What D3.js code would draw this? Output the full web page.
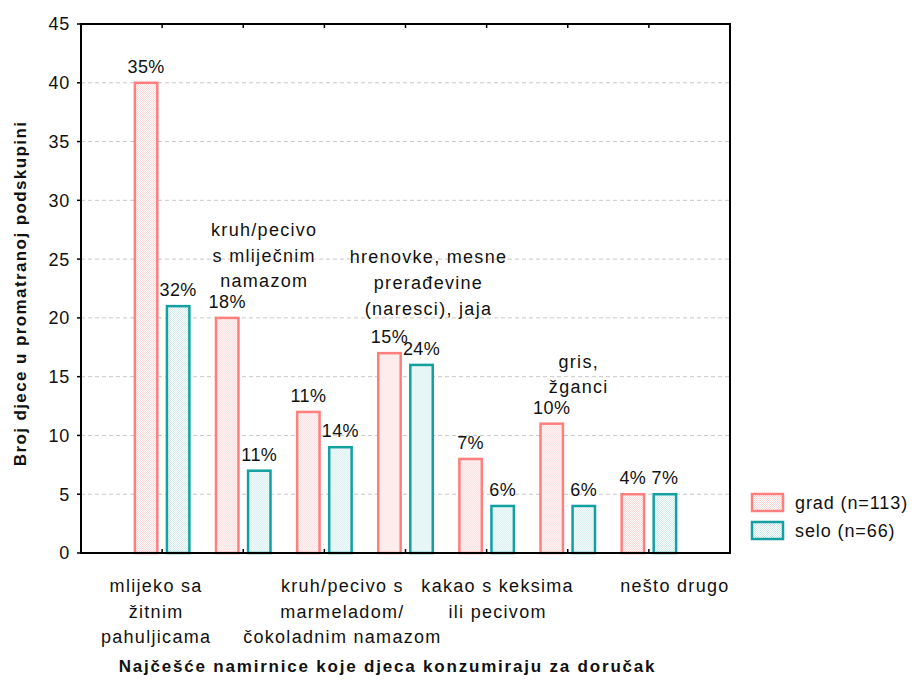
<!DOCTYPE html>
<html>
<head>
<meta charset="utf-8">
<script src="https://cdn.jsdelivr.net/npm/d3@7"></script>
<style>
  body { margin: 0; background: #fff; }
  svg text { font-family: "Liberation Sans", Arial, sans-serif; fill: #111; }
</style>
</head>
<body>
<svg id="chart" width="917" height="680"></svg>
<script>
// categories (index order along the x axis)
const categories = ["mlijeko", "kruhMlijecni", "kruhMarmelada", "hrenovke", "kakao", "gris", "drugo"];
const categoryLabels = [
  ["mlijeko sa", "žitnim", "pahuljicama"],
  ["kruh/pecivo", "s mliječnim", "namazom"],
  ["kruh/pecivo s", "marmeladom/", "čokoladnim namazom"],
  ["hrenovke, mesne", "prerađevine", "(naresci), jaja"],
  ["kakao s keksima", "ili pecivom"],
  ["gris,", "žganci"],
  ["nešto drugo"]
];
const series = ["grad", "selo"];
const seriesNames = ["grad (n=113)", "selo (n=66)"];
const gradValues = [40, 20, 12, 17, 8, 11, 5];
const seloValues = [21, 7, 9, 16, 4, 4, 5];
const gradPct = ["35%", "18%", "11%", "15%", "7%", "10%", "4%"];
const seloPct = ["32%", "11%", "14%", "24%", "6%", "6%", "7%"];
const yTicks = [0, 5, 10, 15, 20, 25, 30, 35, 40, 45];

const svg = d3.select("#chart");
const margin = { left: 81, top: 24, right: 187, bottom: 127 };
const W = 917, H = 680;
const x0 = margin.left, x1 = W - margin.right, y0 = margin.top, y1 = H - margin.bottom;

const x = d3.scalePoint().domain(categories).range([x0, x1]).padding(1);
const xs = d3.scaleBand().domain(series).range([-27.25, 27.25]).paddingInner(0.3);
const y = d3.scaleLinear().domain([0, 45]).range([y1, y0]);

const colors = {
  grad: { stroke: "#ff7f7f", dot: "#fdd6d6" },
  selo: { stroke: "#12a0a0", dot: "#cdeaea" }
};

// dotted fill patterns
const defs = svg.append("defs");
series.forEach((s) => {
  const p = defs.append("pattern")
    .attr("id", `pat-${s}`)
    .attr("width", 2).attr("height", 2)
    .attr("patternUnits", "userSpaceOnUse");
  p.append("rect").attr("width", 2).attr("height", 2).attr("fill", "#fff");
  p.append("rect").attr("width", 1).attr("height", 1).attr("fill", colors[s].dot);
  p.append("rect").attr("x", 1).attr("y", 1).attr("width", 1).attr("height", 1).attr("fill", colors[s].dot);
});

// gridlines
svg.append("g")
  .selectAll("line")
  .data(yTicks.filter((t) => t > 0 && t < 45))
  .join("line")
  .attr("x1", x0).attr("x2", x1)
  .attr("y1", (d) => y(d)).attr("y2", (d) => y(d))
  .attr("stroke", "#c8c8c8")
  .attr("stroke-dasharray", "4,3");

// bars
const data = categories.map((c, i) => ({
  cat: c,
  values: [
    { s: "grad", v: gradValues[i], pct: gradPct[i] },
    { s: "selo", v: seloValues[i], pct: seloPct[i] }
  ]
}));

const groups = svg.append("g")
  .selectAll("g")
  .data(data)
  .join("g")
  .attr("transform", (d) => `translate(${x(d.cat)},0)`);

groups.selectAll("rect")
  .data((d) => d.values)
  .join("rect")
  .attr("x", (d) => xs(d.s))
  .attr("y", (d) => y(d.v))
  .attr("width", xs.bandwidth())
  .attr("height", (d) => y(0) - y(d.v))
  .attr("fill", (d) => `url(#pat-${d.s})`)
  .attr("stroke", (d) => colors[d.s].stroke)
  .attr("stroke-width", 2.5);

groups.selectAll("text.pct")
  .data((d) => d.values)
  .join("text")
  .attr("class", "pct")
  .attr("x", (d) => xs(d.s) + xs.bandwidth() / 2)
  .attr("y", (d) => y(d.v) - 10)
  .attr("text-anchor", "middle")
  .style("font-size", "18px")
  .style("letter-spacing", "0.4px")
  .text((d) => d.pct);

// frame
svg.append("rect")
  .attr("x", x0).attr("y", y0)
  .attr("width", x1 - x0).attr("height", y1 - y0)
  .attr("fill", "none")
  .attr("stroke", "#000")
  .attr("stroke-width", 2);

// y axis ticks + labels
const yAxis = svg.append("g");
yAxis.selectAll("line")
  .data(yTicks)
  .join("line")
  .attr("x1", x0 - 4).attr("x2", x0)
  .attr("y1", (d) => y(d)).attr("y2", (d) => y(d))
  .attr("stroke", "#000").attr("stroke-width", 1.5);
yAxis.selectAll("text")
  .data(yTicks)
  .join("text")
  .attr("x", x0 - 11)
  .attr("y", (d) => y(d))
  .attr("dy", "0.36em")
  .attr("text-anchor", "end")
  .style("font-size", "18px")
  .style("letter-spacing", "0.8px")
  .text((d) => d);

// x ticks (top and bottom, inside)
const xt = svg.append("g");
categories.forEach((c) => {
  xt.append("line").attr("x1", x(c)).attr("x2", x(c)).attr("y1", y0).attr("y2", y0 + 4)
    .attr("stroke", "#000").attr("stroke-width", 1.5);
  xt.append("line").attr("x1", x(c)).attr("x2", x(c)).attr("y1", y1).attr("y2", y1 - 4)
    .attr("stroke", "#000").attr("stroke-width", 1.5);
});

// category labels: odd ones below the axis, even ones inside the plot
const labelPos = [
  { dx: -6, y: 592 },
  { dx: 21, y: 236 },
  { dx: 18, y: 592 },
  { dx: 23, y: 263 },
  { dx: 11, y: 592 },
  { dx: 11, y: 368 },
  { dx: 26, y: 592 }
];
const lineH = [25.5, 25.5, 25.5, 26, 26, 25, 26];
categories.forEach((c, i) => {
  const t = svg.append("text")
    .attr("text-anchor", "middle")
    .style("font-size", "18px")
    .style("letter-spacing", "1.3px");
  categoryLabels[i].forEach((line, j) => {
    t.append("tspan")
      .attr("x", x(c) + labelPos[i].dx)
      .attr("y", labelPos[i].y + j * lineH[i])
      .text(line);
  });
});

// axis titles
svg.append("text")
  .attr("x", (x0 + x1) / 2 - 18)
  .attr("y", 672)
  .attr("text-anchor", "middle")
  .style("font-size", "17px")
  .style("font-weight", "bold")
  .style("letter-spacing", "1.8px")
  .text("Najčešće namirnice koje djeca konzumiraju za doručak");

svg.append("text")
  .attr("transform", `translate(26,${(y0 + y1) / 2 + 5}) rotate(-90)`)
  .attr("text-anchor", "middle")
  .style("font-size", "17px")
  .style("font-weight", "bold")
  .style("letter-spacing", "1.4px")
  .text("Broj djece u promatranoj podskupini");

// legend
const legend = svg.append("g").attr("transform", "translate(752,494)");
series.forEach((s, i) => {
  const g = legend.append("g").attr("transform", `translate(0,${i * 28})`);
  g.append("rect")
    .attr("width", 31).attr("height", 17)
    .attr("fill", `url(#pat-${s})`)
    .attr("stroke", colors[s].stroke)
    .attr("stroke-width", 2.5);
  g.append("text")
    .attr("x", 43).attr("y", 15)
    .style("font-size", "18px")
    .style("letter-spacing", "0.9px")
    .text(seriesNames[i]);
});
</script>
</body>
</html>
